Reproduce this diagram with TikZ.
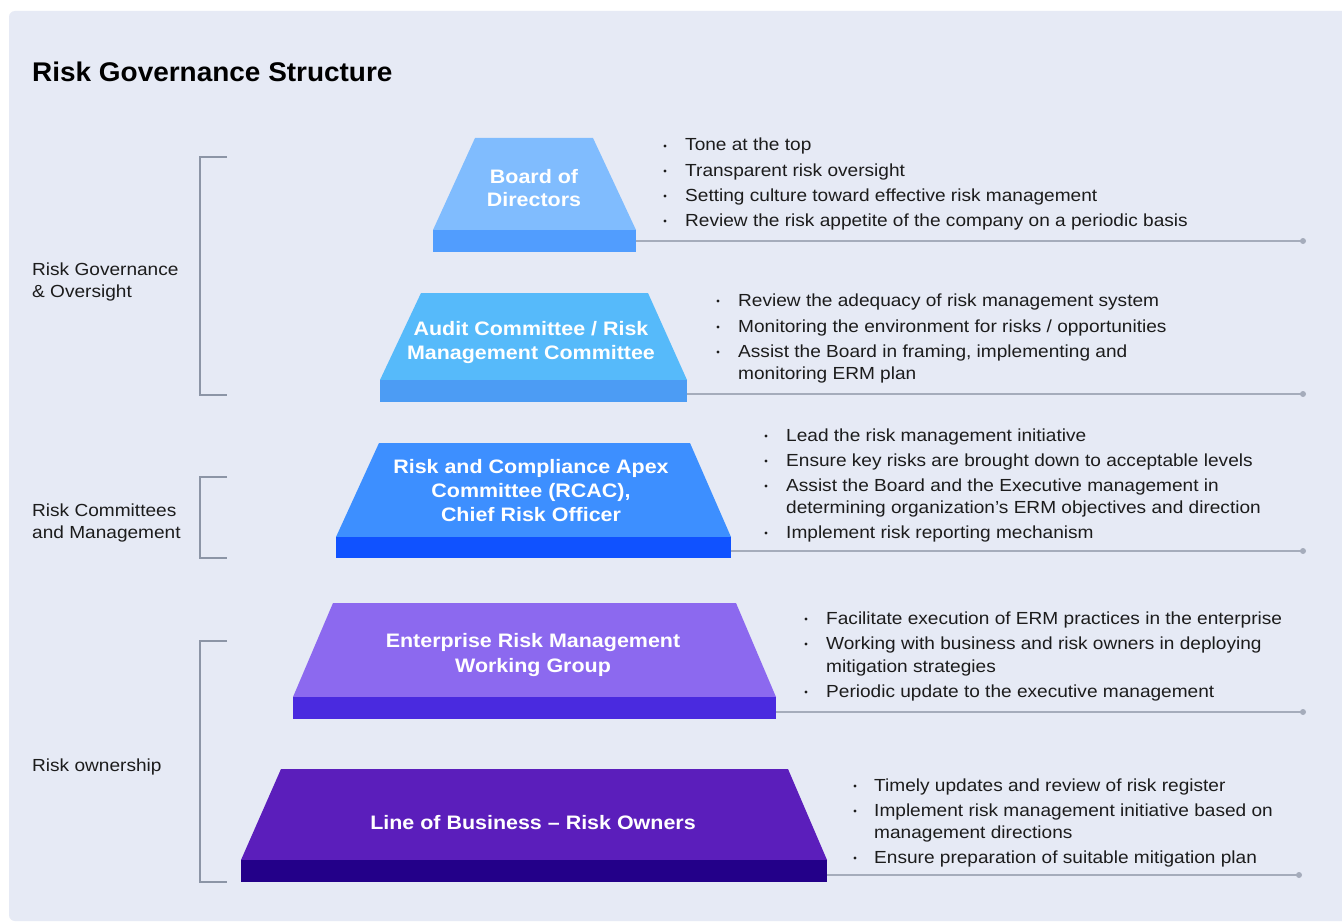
\documentclass[tikz,border=0pt]{standalone}
\usepackage{fontspec}
\setmainfont{Liberation Sans}[FakeStretch=1.09]
\newfontfamily\titlefont{Liberation Sans}[FakeStretch=1.035]
\newfontfamily\trapfont{Liberation Sans}[FakeStretch=1.1]
\definecolor{panel}{HTML}{E6EAF5}
\definecolor{ctopa}{HTML}{80BCFE}
\definecolor{cbasea}{HTML}{519DFE}
\definecolor{ctopb}{HTML}{56BAFA}
\definecolor{cbaseb}{HTML}{4C9CF4}
\definecolor{ctopc}{HTML}{3D8FFF}
\definecolor{cbasec}{HTML}{1052FF}
\definecolor{ctopd}{HTML}{8C69EF}
\definecolor{cbased}{HTML}{4A2ADF}
\definecolor{ctope}{HTML}{5B1EBB}
\definecolor{cbasee}{HTML}{230089}
\definecolor{linec}{HTML}{A5ACBB}
\definecolor{brc}{HTML}{8C95A6}
\definecolor{txt}{HTML}{1C1C1C}
\begin{document}
\begin{tikzpicture}[x=1pt,y=-1pt,
  baserect/.style={inner sep=0pt, draw=none},
  conn/.style={draw=linec, line width=1.3pt},
  brack/.style={draw=brc, line width=1.2pt},
  ttext/.style={anchor=base, inner sep=0pt, text=white, font=\trapfont\fontsize{19.5}{22}\selectfont\bfseries},
  btext/.style={anchor=base west, inner sep=0pt, text=txt, font=\fontsize{17.5}{21}\selectfont},
  glabel/.style={anchor=base west, inner sep=0pt, text=txt, font=\fontsize{17.5}{21}\selectfont},
  bdot/.style={circle, fill=txt, inner sep=0pt, minimum size=3.4pt},
  enddot/.style={circle, fill=linec, inner sep=0pt, minimum size=6pt}]
\useasboundingbox (0,0) rectangle (1342,923);
\fill[white] (0,0) rectangle (1342,923);
\fill[panel, rounded corners=6pt] (9,11) rectangle (1360,921);

% title
\node[anchor=base west, inner sep=0pt, text=black, font=\titlefont\fontsize{27}{32}\selectfont\bfseries] (title) at (32,82) {Risk Governance Structure};

% group labels
\node[glabel] (g1a) at (32,275) {Risk Governance};
\node[glabel] (g1b) at (32,297) {\& Oversight};
\node[glabel] (g2a) at (32,516) {Risk Committees};
\node[glabel] (g2b) at (32,538) {and Management};
\node[glabel] (g3a) at (32,771) {Risk ownership};

% brackets
\draw[brack] (227,157) -- (200,157) -- (200,395) -- (227,395);
\draw[brack] (227,477) -- (200,477) -- (200,558) -- (227,558);
\draw[brack] (227,641) -- (200,641) -- (200,882) -- (227,882);

% level 1
\fill[ctopa] (475,138) -- (593,138) -- (636,230) -- (433,230) -- cycle;
\node[baserect, fill=cbasea, minimum width=203pt, minimum height=22pt] (base1) at (534.5,241) {};
\node[ttext] (t1a) at (534,183) {Board of};
\node[ttext] (t1b) at (534,207) {Directors};
\coordinate (d1) at (1303,241);
\draw[conn] (base1.east) -- (d1);
\node[enddot] (e1) at (d1) {};

% level 2
\fill[ctopb] (421,293) -- (648,293) -- (687,380) -- (380,380) -- cycle;
\node[baserect, fill=cbaseb, minimum width=307pt, minimum height=22pt] (base2) at (533.5,391) {};
\node[ttext] (t2a) at (531,335) {Audit Committee / Risk};
\node[ttext] (t2b) at (531,359) {Management Committee};
\coordinate (d2) at (1303,394);
\draw[conn] (base2.east |- d2) -- (d2);
\node[enddot] (e2) at (d2) {};

% level 3
\fill[ctopc] (379,443) -- (690,443) -- (731,537) -- (336,537) -- cycle;
\node[baserect, fill=cbasec, minimum width=395pt, minimum height=21pt] (base3) at (533.5,547.5) {};
\node[ttext] (t3a) at (531,473) {Risk and Compliance Apex};
\node[ttext] (t3b) at (531,497) {Committee (RCAC),};
\node[ttext] (t3c) at (531,521) {Chief Risk Officer};
\coordinate (d3) at (1303,551);
\draw[conn] (base3.east |- d3) -- (d3);
\node[enddot] (e3) at (d3) {};

% level 4
\fill[ctopd] (333,603) -- (736,603) -- (776,697) -- (293,697) -- cycle;
\node[baserect, fill=cbased, minimum width=483pt, minimum height=22pt] (base4) at (534.5,708) {};
\node[ttext] (t4a) at (533,647) {Enterprise Risk Management};
\node[ttext] (t4b) at (533,672) {Working Group};
\coordinate (d4) at (1303,712);
\draw[conn] (base4.east |- d4) -- (d4);
\node[enddot] (e4) at (d4) {};

% level 5
\fill[ctope] (281,769) -- (788,769) -- (827,860) -- (241,860) -- cycle;
\node[baserect, fill=cbasee, minimum width=586pt, minimum height=22pt] (base5) at (534,871) {};
\node[ttext] (t5a) at (533,829) {Line of Business – Risk Owners};
\coordinate (d5) at (1299,875);
\draw[conn] (base5.east |- d5) -- (d5);
\node[enddot] (e5) at (d5) {};

% bullets level 1
\node[bdot] (p1a) at (665,146) {};
\node[btext] (l1a) at (685,151) {Tone at the top};
\node[bdot] (p1b) at (665,171) {};
\node[btext] (l1b) at (685,176) {Transparent risk oversight};
\node[bdot] (p1c) at (665,196) {};
\node[btext] (l1c) at (685,201) {Setting culture toward effective risk management};
\node[bdot] (p1d) at (665,221) {};
\node[btext] (l1d) at (685,226) {Review the risk appetite of the company on a periodic basis};

% bullets level 2
\node[bdot] (p2a) at (718,301) {};
\node[btext] (l2a) at (738,306) {Review the adequacy of risk management system};
\node[bdot] (p2b) at (718,327) {};
\node[btext] (l2b) at (738,332) {Monitoring the environment for risks / opportunities};
\node[bdot] (p2c) at (718,352) {};
\node[btext] (l2c) at (738,357) {Assist the Board in framing, implementing and};
\node[btext] (l2d) at (738,379) {monitoring ERM plan};

% bullets level 3
\node[bdot] (p3a) at (766,436) {};
\node[btext] (l3a) at (786,441) {Lead the risk management initiative};
\node[bdot] (p3b) at (766,461) {};
\node[btext] (l3b) at (786,466) {Ensure key risks are brought down to acceptable levels};
\node[bdot] (p3c) at (766,486) {};
\node[btext] (l3c) at (786,491) {Assist the Board and the Executive management in};
\node[btext] (l3d) at (786,513) {determining organization’s ERM objectives and direction};
\node[bdot] (p3e) at (766,533) {};
\node[btext] (l3e) at (786,538) {Implement risk reporting mechanism};

% bullets level 4
\node[bdot] (p4a) at (806,619) {};
\node[btext] (l4a) at (826,624) {Facilitate execution of ERM practices in the enterprise};
\node[bdot] (p4b) at (806,644) {};
\node[btext] (l4b) at (826,649) {Working with business and risk owners in deploying};
\node[btext] (l4c) at (826,672) {mitigation strategies};
\node[bdot] (p4d) at (806,692) {};
\node[btext] (l4d) at (826,697) {Periodic update to the executive management};

% bullets level 5
\node[bdot] (p5a) at (855,786) {};
\node[btext] (l5a) at (874,791) {Timely updates and review of risk register};
\node[bdot] (p5b) at (855,811) {};
\node[btext] (l5b) at (874,816) {Implement risk management initiative based on};
\node[btext] (l5c) at (874,838) {management directions};
\node[bdot] (p5d) at (855,858) {};
\node[btext] (l5d) at (874,863) {Ensure preparation of suitable mitigation plan};
\end{tikzpicture}
\end{document}
